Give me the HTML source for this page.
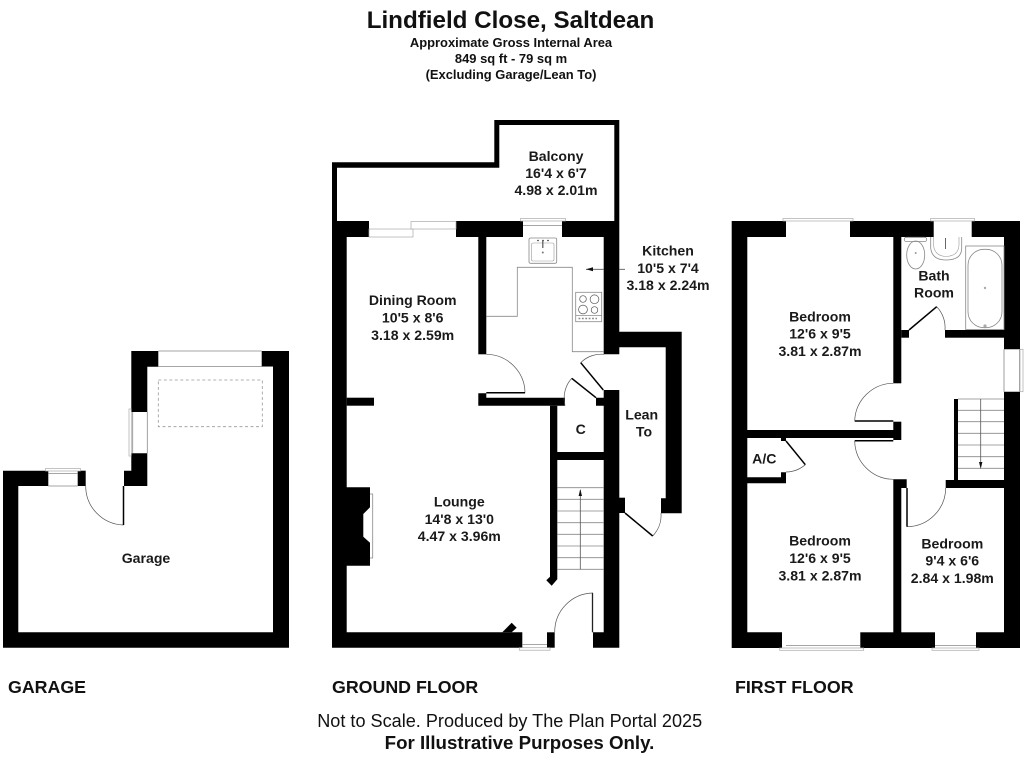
<!DOCTYPE html>
<html><head><meta charset="utf-8"><title>Lindfield Close, Saltdean</title>
<style>
html,body{margin:0;padding:0;background:#fff;width:1024px;height:768px;overflow:hidden}
svg{display:block}
text{font-family:"Liberation Sans",Arial,sans-serif;fill:#111}
.r{font-size:14.1px;font-weight:bold;text-anchor:middle;fill:#1a1a1a}
.h{font-size:12.95px;font-weight:bold;text-anchor:middle}
.f{font-size:17.8px;font-weight:bold}
.t{fill:none;stroke:#888;stroke-width:.8}
.a{fill:none;stroke:#555;stroke-width:.7}
.l{fill:none;stroke:#000;stroke-width:1.5}
.w{fill:#fff;stroke:#aaa;stroke-width:.7}
</style></head><body>
<svg width="1024" height="768" viewBox="0 0 1024 768" xmlns="http://www.w3.org/2000/svg">
<rect width="1024" height="768" fill="#fff"/>
<text x="510.5" y="28" font-size="24.2" font-weight="bold" text-anchor="middle">Lindfield Close, Saltdean</text>
<text class="h" x="511" y="47">Approximate Gross Internal Area</text>
<text class="h" x="511" y="63">849 sq ft - 79 sq m</text>
<text class="h" x="511" y="79">(Excluding Garage/Lean To)</text>

<!-- GARAGE -->
<g fill="#000">
<path d="M3 470.7H48.3V486H18.3V632.3H273V366.7H261.7V351H289V647.7H3Z"/>
<rect x="77.7" y="470.7" width="8" height="15.3"/>
<path d="M131.3 351H158.3V366.7H147.3V412H131.3Z"/>
<path d="M131.3 453.3H147.3V486H124V470.7H131.3Z"/>
</g>
<rect class="w" x="45.5" y="468.5" width="35" height="2.5"/>
<path class="t" d="M48.3 473.5H77.7M48.3 486H77.7M158.3 351H261.7M158.3 366.5H273M147.3 412V453.3M132.7 412V453.3"/>
<rect class="w" x="129" y="409" width="2.3" height="47"/>
<path class="a" d="M85.7 486A39 39 0 0 0 123.5 525"/>
<path class="l" d="M123.5 486V525"/>
<rect x="158.3" y="380" width="104" height="46.7" fill="none" stroke="#999" stroke-width=".8" stroke-dasharray="3 2.5"/>
<text class="r" x="146" y="563">Garage</text>

<!-- GROUND FLOOR -->
<g fill="#000">
<path d="M332 162.3H494.3V120H619.3V331.7H681.7V513.3H661V498.3H665.7V347.3H619.3V354.3H603.7V237H562V221H614.3V125H499.3V167.7H337V221H369V237H346.7V632.3H522.3V647.7H332Z"/>
<rect x="456" y="221" width="67" height="16"/>
<rect x="478.3" y="237" width="8" height="117.3"/>
<path d="M478.3 393.3H486.3V397.7H565V405.7H478.3Z"/>
<rect x="346.7" y="397.7" width="27.3" height="8"/>
<path d="M596 397.7H603.7V390H619.3V647.7H593V632.3H603.7V405.7H596Z"/>
<path d="M619 497.7H625V513H619Z"/>
<path d="M550 405.7H557.3V579.3L551.7 585.7L546.3 580.3L550 576.7Z"/>
<rect x="557" y="452" width="47" height="8"/>
<rect x="547" y="632.3" width="7.7" height="15.4"/>
<path d="M502.3 632.3L511.7 622.7L516.7 627.7L511.7 632.3Z"/>
<path d="M346 487.3H370V507.3L363.3 514V536.7L370 542.7V565.7H346Z"/>
</g>
<rect x="369" y="229" width="44" height="8" fill="#fff" stroke="#aaa" stroke-width=".7"/>
<rect x="411" y="221.5" width="45" height="7.5" fill="#fff" stroke="#aaa" stroke-width=".7"/>
<rect class="w" x="520.5" y="218.5" width="45" height="2.5"/>
<path class="t" d="M523 225.5H562"/>
<rect class="w" x="519.3" y="647.7" width="30.7" height="2.5"/>
<path class="t" d="M522.3 644.5H547"/>
<path class="t" d="M370 494H372.7V558H370"/>
<!-- sink -->
<rect x="529" y="238" width="27.7" height="25.3" rx="1.5" fill="#fff" stroke="#888" stroke-width=".8"/>
<rect x="531.5" y="243" width="22.5" height="18" rx="1.5" fill="none" stroke="#999" stroke-width=".6"/>
<path d="M542.8 240V248" stroke="#555" stroke-width="1.2"/>
<path d="M537 240.5H549" stroke="#666" stroke-width="1.2" stroke-dasharray="2 3"/>
<circle cx="542.8" cy="252.5" r="1" fill="#777"/>
<!-- worktop -->
<path class="t" d="M486.3 316.3H517.3V267.3H572.3V351.7H604"/>
<!-- hob -->
<rect x="575.7" y="292.3" width="26" height="29.4" fill="#fff" stroke="#888" stroke-width=".8"/>
<path class="t" d="M575.7 315.5H601.7"/>
<circle class="a" cx="583" cy="299" r="3.3"/><circle class="a" cx="594.5" cy="299.3" r="4.4"/>
<circle class="a" cx="583" cy="309.5" r="4.4"/><circle class="a" cx="594.5" cy="310" r="3.3"/>
<path d="M578.5 318.5H597" stroke="#888" stroke-width="1.6" stroke-dasharray="1.8 1.6"/>
<!-- kitchen arrow -->
<path d="M586 269.3H604M619.5 269.3H625" stroke="#555" stroke-width=".8"/>
<path d="M586 269.3L593 267.3V271.3Z" fill="#111"/>
<!-- doors -->
<path class="a" d="M486.3 354.3A39 39 0 0 1 525 392.7"/>
<path class="l" d="M486.3 392.7H525"/>
<path class="a" d="M580.7 362.7A29 29 0 0 1 604 354.3"/>
<path class="l" d="M580.7 362.7L603.3 390"/>
<path class="a" d="M571.7 378.3A30 30 0 0 0 565 405.5"/>
<path class="l" d="M571.7 378.3L596 397.7"/>
<path class="a" d="M593 593A39 39 0 0 0 554.7 632.3"/>
<path d="M592.5 593V632.3" stroke="#222" stroke-width="1.3"/>
<path class="a" d="M652.7 536A30 30 0 0 0 661 513"/>
<path class="l" d="M625 513L652.7 536"/>
<!-- ground stairs -->
<path class="t" d="M557.3 487.7H604M557.3 499.3H604M557.3 511H604M557.3 522.7H604M557.3 534.3H604M557.3 546H604M557.3 557.7H604M557.3 569.3H604"/>
<path d="M580.3 490V569.3" stroke="#555" stroke-width=".8"/>
<path d="M580.3 489L578.6 496H582Z" fill="#111"/>
<text class="r" x="556" y="161">Balcony</text>
<text class="r" x="556" y="178">16'4 x 6'7</text>
<text class="r" x="556" y="195">4.98 x 2.01m</text>
<text class="r" x="668" y="255.5">Kitchen</text>
<text class="r" x="668" y="273">10'5 x 7'4</text>
<text class="r" x="668" y="290">3.18 x 2.24m</text>
<text class="r" x="412.7" y="305">Dining Room</text>
<text class="r" x="412.7" y="322.5">10'5 x 8'6</text>
<text class="r" x="412.7" y="340">3.18 x 2.59m</text>
<text class="r" x="459.3" y="506.5">Lounge</text>
<text class="r" x="459.3" y="524">14'8 x 13'0</text>
<text class="r" x="459.3" y="541">4.47 x 3.96m</text>
<text class="r" x="580.7" y="434">C</text>
<text class="r" x="641.7" y="419.3">Lean</text>
<text class="r" x="644" y="436.7">To</text>

<!-- FIRST FLOOR -->
<g fill="#000">
<path d="M731.7 221H786V237H747.3V632.3H782V648H731.7Z"/>
<rect x="850" y="221" width="83.7" height="16"/>
<path d="M971.7 221H1020V349.3H1004V237H971.7Z"/>
<path d="M1004 391.7H1020V648H976V632.3H1004Z"/>
<rect x="860.3" y="632.3" width="74.7" height="15.7"/>
<rect x="893.3" y="237" width="8" height="146.3"/>
<rect x="901.3" y="330" width="7.7" height="7.7"/>
<rect x="945" y="330" width="59" height="7.7"/>
<rect x="747" y="430" width="146.5" height="8"/>
<rect x="893.3" y="421.7" width="8" height="18.3"/>
<path d="M893.3 479.3H906.7V488H901.3V633H893.3Z"/>
<rect x="945.7" y="480" width="58.3" height="8"/>
<rect x="954" y="399" width="4" height="81"/>
<path d="M747 477.3H781V472.3H786V483.3H747Z"/>
<rect x="781" y="438" width="5" height="3"/>
</g>
<rect class="w" x="783" y="218.5" width="70" height="2.5"/>
<rect class="w" x="930.5" y="218.5" width="44" height="2.5"/>
<rect class="w" x="779.7" y="648" width="84" height="2.3"/>
<rect class="w" x="932" y="648" width="47" height="2.3"/>
<path class="t" d="M786 645.5H860M935 645.5H976M1004 349.3V391.7M1019.5 349.3V391.7"/>
<rect class="w" x="1020" y="349.3" width="3" height="42.4"/>
<!-- bath fixtures -->
<rect x="904.3" y="237.3" width="22.4" height="4.2" rx="2" class="t"/>
<ellipse class="t" cx="915.7" cy="255" rx="9" ry="14"/>
<circle cx="915.7" cy="253" r="1" fill="#999"/>
<path class="t" d="M930.7 237V248Q932 260 946 260Q961.7 260 961.7 248V237"/>
<path d="M933.5 237V245Q934.5 256 946 256.5Q958.5 256 959 245V237" fill="none" stroke="#999" stroke-width=".6"/>
<path d="M945.5 238V249" stroke="#666" stroke-width="1"/>
<rect class="t" x="965.7" y="246" width="38.3" height="83.5"/>
<rect class="t" x="968" y="249.3" width="34" height="78.4" rx="16"/>
<circle cx="985" cy="288" r="1.2" fill="#aaa"/>
<circle cx="985" cy="326" r="1.6" fill="#aaa"/>
<!-- doors -->
<path class="a" d="M936.7 306.7A30 30 0 0 1 945 330"/>
<path class="l" d="M909 330L936.7 306.7"/>
<path class="a" d="M893.3 383.3A39 39 0 0 0 854.7 420.7"/>
<path class="l" d="M854.7 421H893.3"/>
<path class="a" d="M854.7 441A39 39 0 0 0 893.3 479.3"/>
<path class="l" d="M854.7 440.7H893.3"/>
<path class="a" d="M907 526.7A39 39 0 0 0 945.7 488"/>
<path class="l" d="M907 488V526.7"/>
<path class="a" d="M805.3 464.7A30 30 0 0 1 786 472"/>
<path class="l" d="M786 441L805.3 464.7"/>
<!-- first stairs -->
<path class="t" d="M958 399H1004M958 410.3H1004M958 421.7H1004M958 433.3H1004M958 445H1004M958 456.7H1004M958 468.3H1004"/>
<path d="M980.7 399V466" stroke="#555" stroke-width=".8"/>
<path d="M980.7 469L979 462H982.4Z" fill="#111"/>
<text class="r" x="820" y="321.3">Bedroom</text>
<text class="r" x="820" y="338.7">12'6 x 9'5</text>
<text class="r" x="820" y="356">3.81 x 2.87m</text>
<text class="r" x="934" y="280.7">Bath</text>
<text class="r" x="934" y="297.7">Room</text>
<text class="r" x="820" y="545.7">Bedroom</text>
<text class="r" x="820" y="563">12'6 x 9'5</text>
<text class="r" x="820" y="580.3">3.81 x 2.87m</text>
<text class="r" x="952.3" y="548.3">Bedroom</text>
<text class="r" x="952.3" y="565.7">9'4 x 6'6</text>
<text class="r" x="952.3" y="583">2.84 x 1.98m</text>
<text class="r" x="764.3" y="463.3">A/C</text>

<text class="f" x="8" y="693">GARAGE</text>
<text class="f" x="332" y="693">GROUND FLOOR</text>
<text class="f" x="735" y="693">FIRST FLOOR</text>
<text x="509.7" y="727" font-size="18.1" text-anchor="middle">Not to Scale. Produced by The Plan Portal 2025</text>
<text x="519.5" y="749" font-size="18.7" font-weight="bold" text-anchor="middle">For Illustrative Purposes Only.</text>
</svg>
</body></html>
